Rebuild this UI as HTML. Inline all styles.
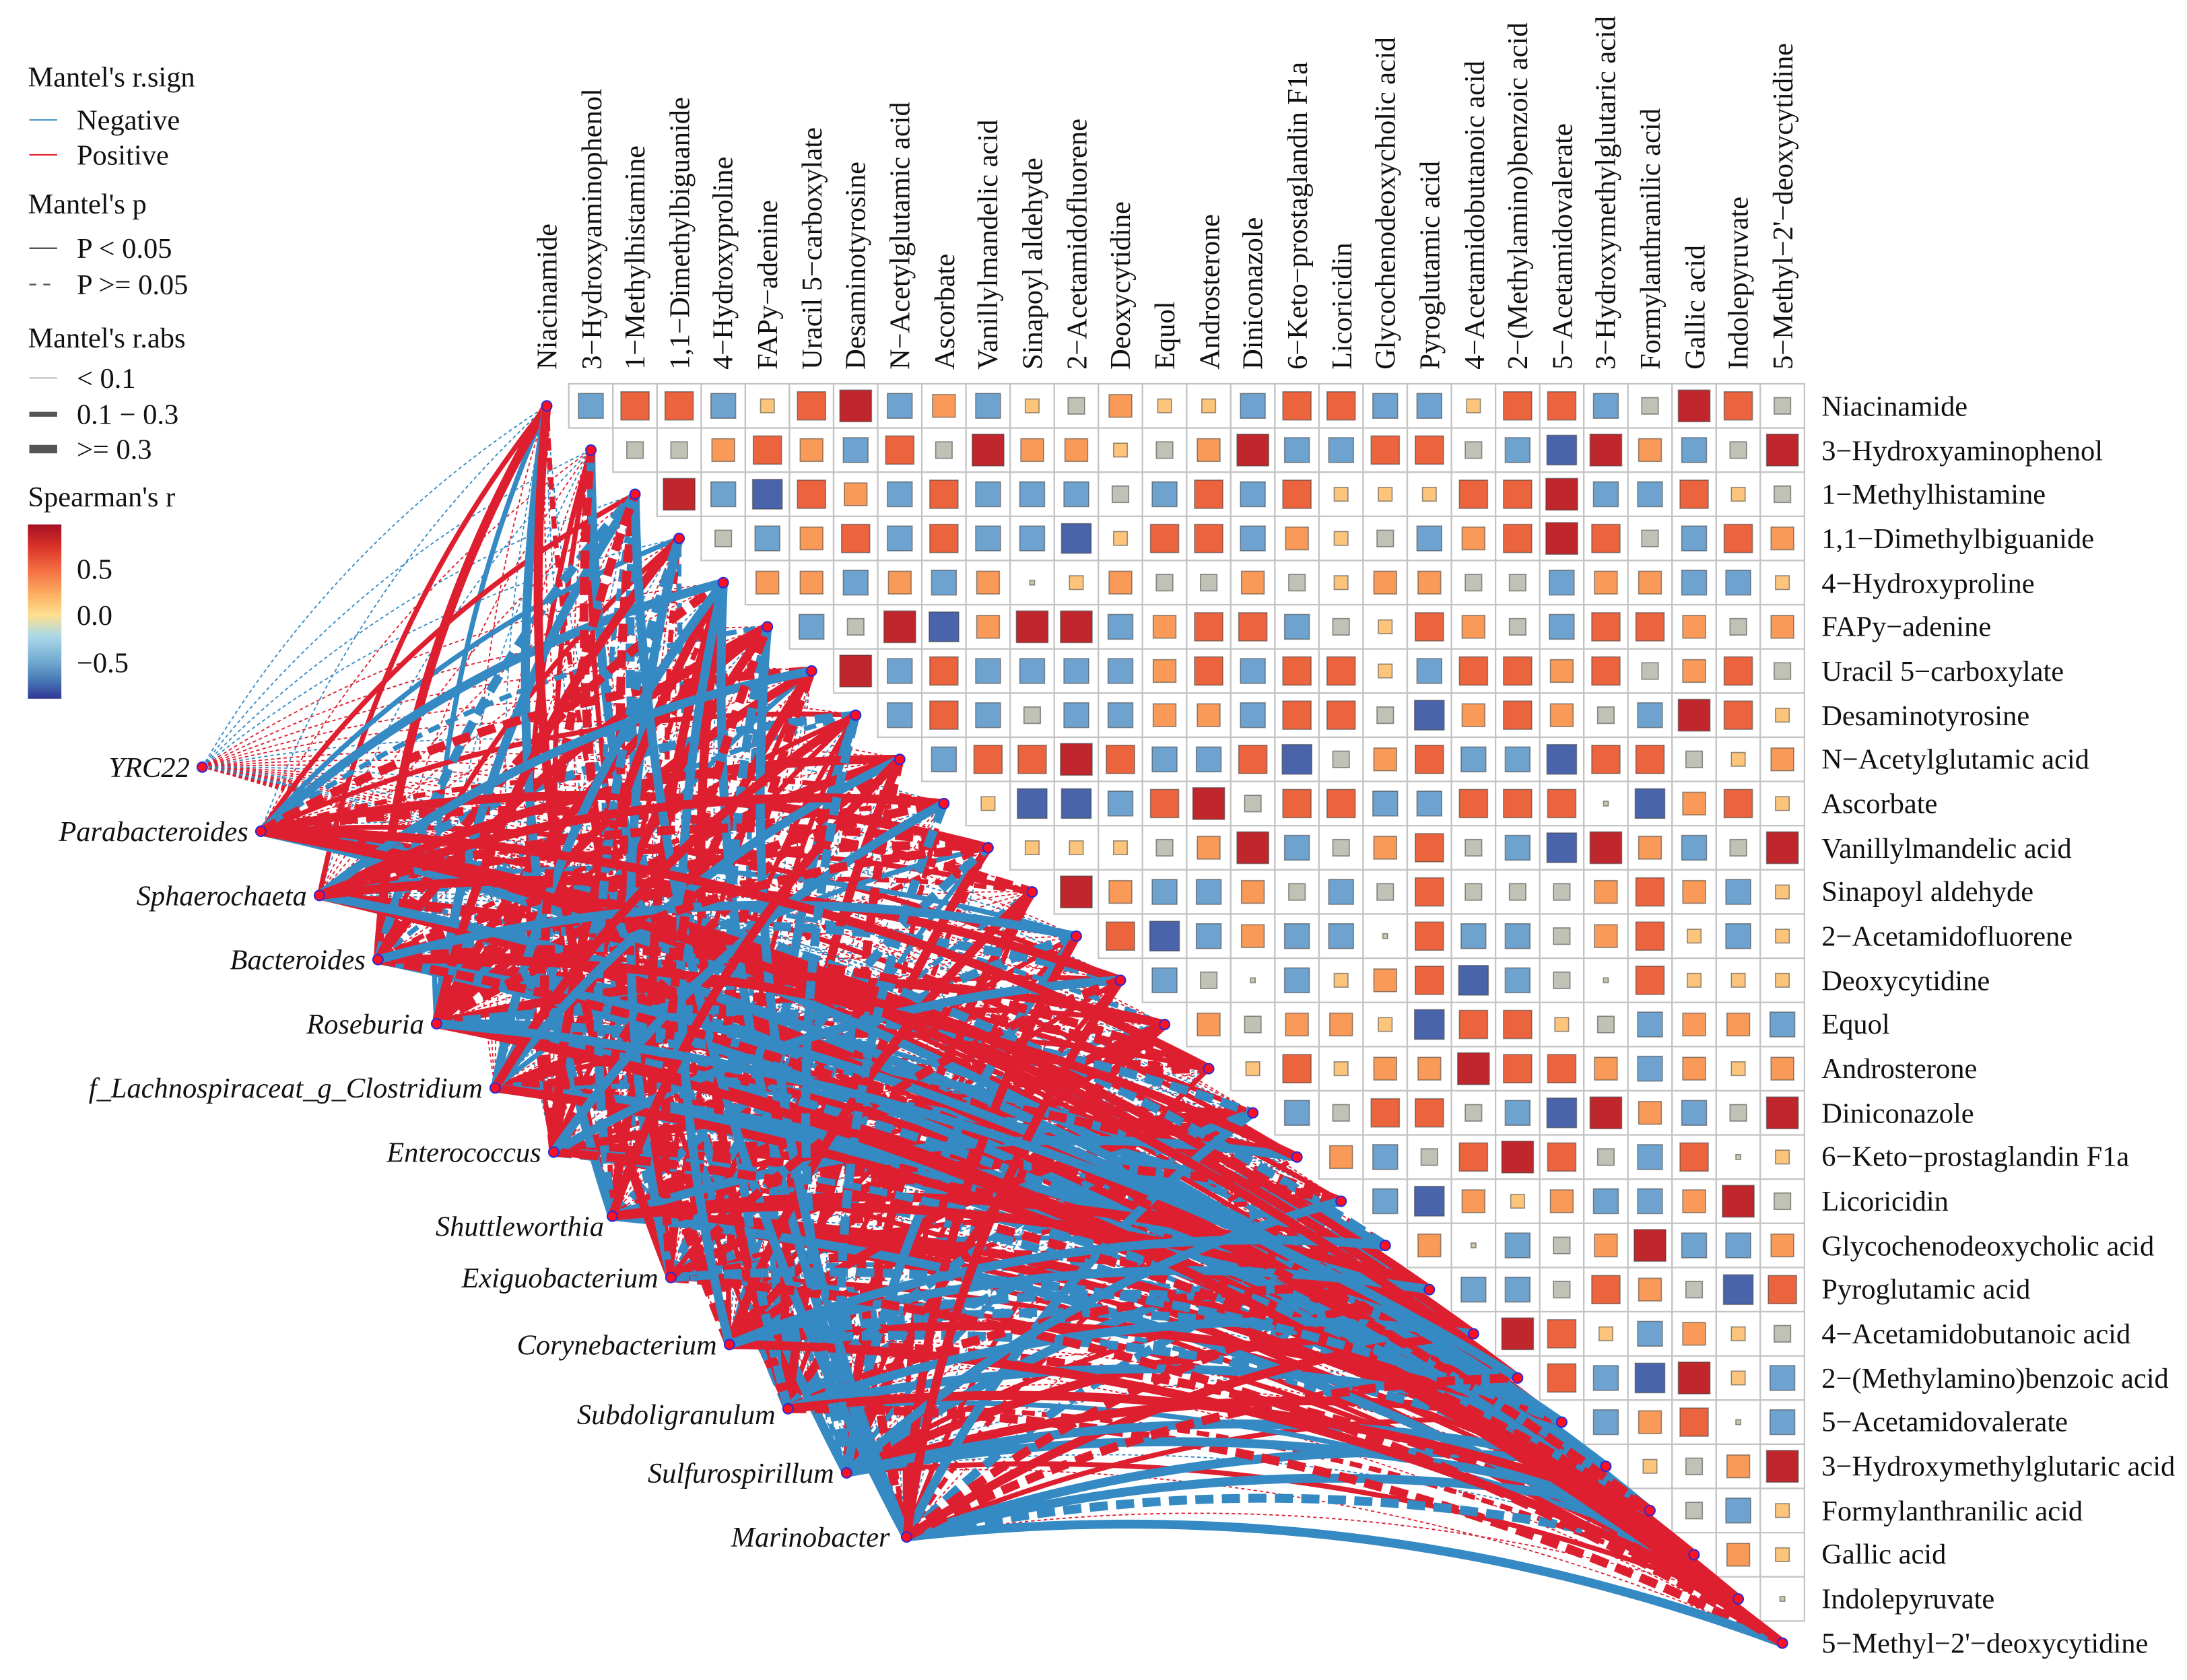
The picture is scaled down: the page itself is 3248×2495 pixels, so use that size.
<!DOCTYPE html>
<html><head><meta charset="utf-8">
<style>
html,body{margin:0;padding:0;background:#fff;}
svg{display:block;}
text{font-family:"Liberation Serif",serif;fill:#111;}
</style></head>
<body>
<svg id="s" xmlns="http://www.w3.org/2000/svg" width="3248" height="2495" viewBox="0 0 1568 1204.5">
<defs>
<linearGradient id="cb" x1="0" y1="0" x2="0" y2="1">
<stop offset="0" stop-color="#a50f26"/>
<stop offset="0.12" stop-color="#d73027"/>
<stop offset="0.26" stop-color="#f46d43"/>
<stop offset="0.4" stop-color="#fdae61"/>
<stop offset="0.52" stop-color="#fee090"/>
<stop offset="0.64" stop-color="#abd9e9"/>
<stop offset="0.78" stop-color="#74add1"/>
<stop offset="0.9" stop-color="#4575b4"/>
<stop offset="1" stop-color="#313695"/>
</linearGradient>
</defs>
<g id="grid"></g>
<g id="edges"></g>
<g id="nodes"></g>
<!-- Legend -->
<g font-size="20.5">
<text x="20" y="62">Mantel's r.sign</text>
<line x1="21" y1="86" x2="41" y2="86" stroke="#3a8fc8" stroke-width="1"/>
<text x="55" y="93">Negative</text>
<line x1="21" y1="111" x2="41" y2="111" stroke="#e0202f" stroke-width="1"/>
<text x="55" y="118">Positive</text>
<text x="20" y="153">Mantel's p</text>
<line x1="21" y1="178" x2="41" y2="178" stroke="#555" stroke-width="1.2"/>
<text x="55" y="185">P &lt; 0.05</text>
<line x1="21" y1="204" x2="41" y2="204" stroke="#555" stroke-width="1.2" stroke-dasharray="5,5"/>
<text x="55" y="211">P &gt;= 0.05</text>
<text x="20" y="249">Mantel's r.abs</text>
<line x1="21" y1="271" x2="41" y2="271" stroke="#aaa" stroke-width="0.8"/>
<text x="55" y="278">&lt; 0.1</text>
<line x1="21" y1="297" x2="41" y2="297" stroke="#555" stroke-width="3.5"/>
<text x="55" y="304">0.1 − 0.3</text>
<line x1="21" y1="322" x2="41" y2="322" stroke="#555" stroke-width="6"/>
<text x="55" y="329">&gt;= 0.3</text>
<text x="20" y="363">Spearman's r</text>
<rect x="20" y="376" width="24" height="125" fill="url(#cb)"/>
<text x="55" y="415">0.5</text>
<text x="55" y="448">0.0</text>
<text x="55" y="482">−0.5</text>
</g>
<!-- column labels -->
<g font-size="20.5">
<text transform="translate(399,265) rotate(-90)">Niacinamide</text>
<text transform="translate(431,265) rotate(-90)">3−Hydroxyaminophenol</text>
<text transform="translate(462,265) rotate(-90)">1−Methylhistamine</text>
<text transform="translate(494,265) rotate(-90)">1,1−Dimethylbiguanide</text>
<text transform="translate(525,265) rotate(-90)">4−Hydroxyproline</text>
<text transform="translate(557,265) rotate(-90)">FAPy−adenine</text>
<text transform="translate(589,265) rotate(-90)">Uracil 5−carboxylate</text>
<text transform="translate(620,265) rotate(-90)">Desaminotyrosine</text>
<text transform="translate(652,265) rotate(-90)">N−Acetylglutamic acid</text>
<text transform="translate(684,265) rotate(-90)">Ascorbate</text>
<text transform="translate(715,265) rotate(-90)">Vanillylmandelic acid</text>
<text transform="translate(747,265) rotate(-90)">Sinapoyl aldehyde</text>
<text transform="translate(779,265) rotate(-90)">2−Acetamidofluorene</text>
<text transform="translate(810,265) rotate(-90)">Deoxycytidine</text>
<text transform="translate(842,265) rotate(-90)">Equol</text>
<text transform="translate(874,265) rotate(-90)">Androsterone</text>
<text transform="translate(905,265) rotate(-90)">Diniconazole</text>
<text transform="translate(937,265) rotate(-90)">6−Keto−prostaglandin F1a</text>
<text transform="translate(969,265) rotate(-90)">Licoricidin</text>
<text transform="translate(1000,265) rotate(-90)">Glycochenodeoxycholic acid</text>
<text transform="translate(1032,265) rotate(-90)">Pyroglutamic acid</text>
<text transform="translate(1064,265) rotate(-90)">4−Acetamidobutanoic acid</text>
<text transform="translate(1095,265) rotate(-90)">2−(Methylamino)benzoic acid</text>
<text transform="translate(1127,265) rotate(-90)">5−Acetamidovalerate</text>
<text transform="translate(1158,265) rotate(-90)">3−Hydroxymethylglutaric acid</text>
<text transform="translate(1190,265) rotate(-90)">Formylanthranilic acid</text>
<text transform="translate(1222,265) rotate(-90)">Gallic acid</text>
<text transform="translate(1253,265) rotate(-90)">Indolepyruvate</text>
<text transform="translate(1285,265) rotate(-90)">5−Methyl−2'−deoxycytidine</text>
</g>
<!-- row labels -->
<g font-size="20.5">
<text x="1306" y="298">Niacinamide</text>
<text x="1306" y="330">3−Hydroxyaminophenol</text>
<text x="1306" y="361">1−Methylhistamine</text>
<text x="1306" y="393">1,1−Dimethylbiguanide</text>
<text x="1306" y="425">4−Hydroxyproline</text>
<text x="1306" y="456">FAPy−adenine</text>
<text x="1306" y="488">Uracil 5−carboxylate</text>
<text x="1306" y="520">Desaminotyrosine</text>
<text x="1306" y="551">N−Acetylglutamic acid</text>
<text x="1306" y="583">Ascorbate</text>
<text x="1306" y="615">Vanillylmandelic acid</text>
<text x="1306" y="646">Sinapoyl aldehyde</text>
<text x="1306" y="678">2−Acetamidofluorene</text>
<text x="1306" y="710">Deoxycytidine</text>
<text x="1306" y="741">Equol</text>
<text x="1306" y="773">Androsterone</text>
<text x="1306" y="805">Diniconazole</text>
<text x="1306" y="836">6−Keto−prostaglandin F1a</text>
<text x="1306" y="868">Licoricidin</text>
<text x="1306" y="900">Glycochenodeoxycholic acid</text>
<text x="1306" y="931">Pyroglutamic acid</text>
<text x="1306" y="963">4−Acetamidobutanoic acid</text>
<text x="1306" y="995">2−(Methylamino)benzoic acid</text>
<text x="1306" y="1026">5−Acetamidovalerate</text>
<text x="1306" y="1058">3−Hydroxymethylglutaric acid</text>
<text x="1306" y="1090">Formylanthranilic acid</text>
<text x="1306" y="1121">Gallic acid</text>
<text x="1306" y="1153">Indolepyruvate</text>
<text x="1306" y="1185">5−Methyl−2'−deoxycytidine</text>
</g>
<!-- species labels -->
<g font-size="20.5" font-style="italic" text-anchor="end">
<text x="136" y="557">YRC22</text>
<text x="178" y="603">Parabacteroides</text>
<text x="220" y="649">Sphaerochaeta</text>
<text x="262" y="695">Bacteroides</text>
<text x="304" y="741">Roseburia</text>
<text x="346" y="787">f_Lachnospiraceat_g_Clostridium</text>
<text x="388" y="833">Enterococcus</text>
<text x="433" y="886">Shuttleworthia</text>
<text x="472" y="923">Exiguobacterium</text>
<text x="514" y="971">Corynebacterium</text>
<text x="556" y="1021">Subdoligranulum</text>
<text x="598" y="1063">Sulfurospirillum</text>
<text x="638" y="1109">Marinobacter</text>
</g>
</svg>
<script>
(function(){
var NS="http://www.w3.org/2000/svg";
function el(t,a,p){var e=document.createElementNS(NS,t);for(var k in a)e.setAttribute(k,a[k]);p.appendChild(e);return e;}
var N=29,x0=392,y0=291,dx=31.64,dy=31.68;
var rows=["brrbyrRbobygoyybrrbbyrrbgRrg","ggorobrgRooygoRbbrrgbBRobgR","RbBrobrbbbgbrbryyyrrRbbryg","gborbrbbByrrboygborRrgbrog","oobobo.yoggogyooggboobby","bgRBoRRborrbgyrogbrrogo","Rbrbbbborbrrybrrorgorg","brbgbboobrrgBorogbRry","brrRrbbrBgorbbBrrgyo","yBBbrRgrrbbrrr.Bory","yyygoRbgorgbBRobgR","Robbogbgrgggoroby","rBbobb.rbbgoryby","bg.byorBbg.ryyy","ogooyBrrygboob","yryooRrroboyo","bgrrgbBRobgR","obgrRrgbr.y","bBoyobboRg","o.bgoRbbo","bbgrogBr","Rryboyg","rbBRyb","bor.b","ygoR","gby","oy","."];
var C={R:["#c0272d",0.92],r:["#ec643e",0.82],o:["#f99a58",0.66],y:["#fdc57c",0.4],g:["#bfc2b4",0.48],b:["#6fa3cf",0.72],B:["#4a64ac",0.86],".":["#cfc8a8",0.14]};
var grid=document.getElementById("grid");
for(var i=0;i<N-1;i++){
 var r=rows[i]||"";
 for(var j=i+1;j<N;j++){
  var cx=x0+dx*j,cy=y0+dy*i;
  el("rect",{x:cx-dx/2,y:cy-dy/2,width:dx,height:dy,fill:"#fff",stroke:"#c4c4c4","stroke-width":1.1},grid);
  var c=C[r.charAt(j-i-1)]||C.g;var s=c[1]*dx*0.78;
  el("rect",{x:cx-s/2,y:cy-s/2,width:s,height:s,fill:c[0],stroke:"rgba(60,60,60,0.55)","stroke-width":0.8},grid);
 }
}
var sp=[[145,550],[187,596],[229,642],[271,688],[313,734],[355,780],[397,826],[439,872],[481,916],[523,964],[565,1010],[607,1056],[650,1102]];
var seed=12345;function rnd(){seed=(seed*1103515245+12345)&0x7fffffff;return seed/0x7fffffff;}
var E=[];
for(var a=0;a<sp.length;a++){
 for(var m=0;m<N;m++){
  var red=rnd()<0.62, u=rnd();
  var cls = a==0?0:(u<0.4?2:(u<0.64?1:0));
  var dsh=rnd()<0.38;
  E.push({a:a,m:m,red:red,cls:cls,dsh:dsh,o:rnd()});
 }
}
E.sort(function(p,q){return (p.cls-q.cls)||(p.o-q.o);});
var eg=document.getElementById("edges");
E.forEach(function(e){
 var s=sp[e.a],tx=x0+dx*e.m,ty=y0+dy*e.m;
 var mx=(s[0]+tx)/2,my=(s[1]+ty)/2,ddx=tx-s[0],ddy=ty-s[1];
 var k=0.12;var qx=mx+k*ddy,qy=my-k*ddx;
 var w=[0.9,3.6,6.4][e.cls];
 var at={d:"M"+s[0]+","+s[1]+" Q"+qx.toFixed(1)+","+qy.toFixed(1)+" "+tx.toFixed(1)+","+ty.toFixed(1),fill:"none",stroke:e.red?"#de1f30":"#358ac4","stroke-width":w};
 if(e.cls==0)at["stroke-dasharray"]="2.5,2";
 else if(e.dsh)at["stroke-dasharray"]=e.cls==2?"13,6":"9,5";
 el("path",at,eg);
});
var ng=document.getElementById("nodes");
sp.forEach(function(s){el("circle",{cx:s[0],cy:s[1],r:3.6,fill:"#ff1020",stroke:"#2a2ad8","stroke-width":1},ng);});
for(var i=0;i<N;i++)el("circle",{cx:x0+dx*i,cy:y0+dy*i,r:3.6,fill:"#ff1020",stroke:"#2a2ad8","stroke-width":1},ng);
})();
</script>
</body></html>
